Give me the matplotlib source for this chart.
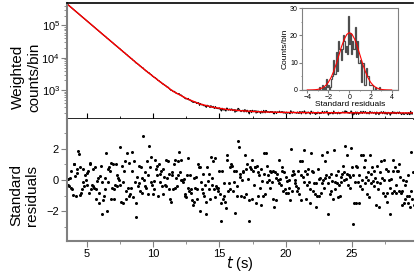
import numpy as np
import matplotlib
matplotlib.use("Agg")
import matplotlib.pyplot as plt
from matplotlib.ticker import MultipleLocator, LogLocator, NullFormatter, FixedLocator

plt.rcParams['font.family'] = ['Liberation Sans', 'DejaVu Sans']

# ---------------- data ----------------
# fitted decay (weighted counts/bin) sampled at these times
fit_t = [3.5, 4.5, 5.5, 6.5, 7.5, 8.5, 9.5, 10.5, 11.5, 12.5, 13.5, 14.5, 15.5,
         16.5, 17.5, 18.5, 19.5, 21.0, 23.0, 25.0, 27.0, 29.7]
fit_counts = [460000, 206000, 92500, 41500, 18700, 8400, 3850, 1850, 930, 560,
              380, 300, 258, 236, 222, 214, 209, 205, 203, 202, 201, 200]

# standard residuals, read left to right
residuals = [
    0.06, -0.3, -0.4, 0.1, 0.55, -0.5, -0.6, -0.95, 1.0, 1.05, 0.25, -1.0, 0.45, 0.7, 1.85,
    1.65, 0.8, -0.95, -0.85, -0.6, 0.7, -0.1, -0.4, 0.35, 0.0, -0.3, 0.45, 0.6, -0.85, 1.0,
    1.1, -0.6, -0.3, -0.4, 0.7, -0.5, 0.8, -0.6, -1.2, -0.06, 0.15, -1.5, -0.85, 0.25, 0.9,
    -2.15, -0.1, -1.3, -1.05, -0.6, 0.1, 1.75, -1.95, -0.1, 0.7, 0.8, 0.55, -1.2, 1.1, -0.5,
    1.0, -0.6, -1.2, -0.3, 1.0, 0.3, -0.4, 0.1, 0.0, -0.3, 2.1, -1.4, 0.9, -0.1, -1.5,
    0.6, 1.2, -0.7, -1.2, 1.75, -0.5, -1.0, 1.1, -0.9, -0.5, 1.8, 0.6, -1.1, 1.2, -0.1,
    -1.5, -2.35, 0.2, -0.4, 0.9, -0.2, -0.7, 0.8, 0.1, -0.8, 2.8, 0.0, -0.4, 0.5, -0.5,
    1.2, 0.3, -0.9, 2.2, 0.8, -0.1, 1.5, -0.3, -0.9, -0.06, -0.6, 1.3, 0.7, 0.9, 0.3, -1.0,
    1.0, 0.4, -0.1, 0.6, -0.4, -0.9, 0.7, 0.2, -0.3, 1.3, -0.4, 0.1, 1.2, 0.4, -0.6,
    -1.2, -1.4, 0.3, 0.5, -0.6, 1.0, 1.3, -0.5, 0.1, -0.4, 0.3, 1.2, 1.8, 0.5, 0.0,
    1.3, 0.0, -0.1, 0.06, -0.9, -1.0, -1.1, 0.3, -0.5, 1.4, -0.7, 0.3, -0.6, -0.8, -1.3,
    -1.6, -1.4, 0.1, -0.5, 0.2, -1.2, -0.6, 1.0, 0.8, -2.0, 0.8, -0.1, -0.6, 0.4, -0.8,
    -1.0, -0.3, -1.4, -2.15, 0.8, -0.06,
    0.4, -0.6, -1.2, 1.5, 0.1, -0.3, 1.2, -0.6, -1.1, 1.4, -0.4, -0.5, -0.5, -0.7, 0.6,
    -0.9, -1.5, -2.6, 0.6, -1.2, -1.0, -0.2, -1.4, -1.8, 1.6, 1.3, -0.7, -0.2, 0.8, -0.6,
    1.0, 0.9, -0.7, -0.1, 0.6, -2.1, 0.6, -1.0, -0.4, 2.5, 2.1, 0.4, 0.2, -1.0, 0.0,
    0.5, 0.6, -1.1, 1.6, 0.7, -0.9, 1.0, 0.06, -1.3, -2.6, 0.8, 0.7, -1.2, 1.3, 0.6,
    -0.3, 0.8, 0.8, -1.5, 0.9, -1.0,
    0.5, 0.3, -0.5, -1.6, 0.7, -0.06, -1.0, 1.7, 0.4, -0.9, 1.7, 0.9, -0.1, 0.3, 0.0,
    -0.5, 0.6, 0.5, -0.1, 0.6, -1.2, -1.7, 0.5, 0.1, -1.3, 0.4, 0.0, -0.2, 1.3, 0.06,
    -0.3, 0.8, 0.6, -0.7, 0.5, -0.6, -0.8, 0.2, -0.06, -0.8, 0.0, -0.5, -1.3, 2.0, 0.3,
    -0.7, 0.6, 0.4, -0.2, 0.0, -0.4, -0.7, 0.6, -0.5, -0.9, 1.2, 0.3, -1.3, 1.2, 0.2,
    -0.1, 1.9, 0.6, -1.2, 0.4, -0.3,
    0.7, -0.1, -0.6, -1.5, 1.7, 0.6, -0.7, 0.5, -0.2, -0.9, -1.7, -0.2, -1.0, 0.7, 0.06,
    -1.0, 0.1, -0.8, -0.2, 1.6, 0.0, -0.5, 1.2, 0.1, 0.3, 1.8, -0.2, -2.2, 0.2, -0.9,
    -0.7, 0.4, -0.06, -1.2, 1.9, -0.1, -0.6, 0.3, -0.2, -1.1, 0.6, -0.3, -1.0, 0.2, -0.1,
    0.4, 0.9, 0.5, 0.0, 2.2, 0.06, 1.6, 0.4, -0.3, 0.3, -0.5, 0.2, 2.05, 0.8, -2.8,
    0.3, -1.5, -0.1, 0.9, -1.5,
    0.8, -0.1, -1.5, 0.3, -0.4, 1.6, 0.0, -0.6, 1.6, 0.8, -0.2, 1.3, 0.2, -0.9, 0.5,
    0.0, -1.1, 1.6, 0.4, -0.2, 0.8, -0.06, -0.4, 0.6, 0.1, -1.6, 0.9, -0.1, -0.6, -1.7,
    0.5, -0.2, 1.2, 0.1, -0.8, 1.3, 0.0, -1.0, 0.7, -0.8, -1.4, 0.6, 0.0, -0.5, -2.2,
    0.06, -0.8, 1.3, 0.6, -0.7, 0.8, -0.3, -0.8, 0.6, 0.6, -0.7, 1.0, 0.2, -0.8, -1.6,
    -0.7, 0.0, -1.5, -1.2, -0.3, -0.06, -1.0, -1.5, 0.3, -1.0, -1.7, 1.8, -0.7, -1.2, 0.5,
    -1.6,
]
t_first, t_last = 3.55, 29.65

# inset: Gaussian fit of residual histogram
gauss_x = [-4.0, -3.75, -3.5, -3.25, -3.0, -2.75, -2.5, -2.25, -2.0, -1.75, -1.5, -1.25,
           -1.0, -0.75, -0.5, -0.25, 0.0, 0.25, 0.5, 0.75, 1.0, 1.25, 1.5, 1.75, 2.0,
           2.25, 2.5, 2.75, 3.0, 3.25, 3.5, 3.75, 4.0]
gauss_y = [0.01, 0.02, 0.05, 0.11, 0.23, 0.48, 0.92, 1.67, 2.84, 4.53, 6.80, 9.58,
           12.74, 15.91, 18.53, 20.36, 21.0, 20.36, 18.53, 15.91, 12.74, 9.58, 6.80,
           4.53, 2.84, 1.67, 0.92, 0.48, 0.23, 0.11, 0.05, 0.02, 0.01]
hist_bin_width = 0.1

# ---------------- derived ----------------
res = np.array(residuals)
t = np.linspace(t_first, t_last, len(res))
fit_at_t = 10 ** np.interp(t, fit_t, np.log10(fit_counts))
counts = fit_at_t + res * np.sqrt(fit_at_t)

GREY = '#808080'
fig = plt.figure(figsize=(4.15, 2.73), dpi=100)
ax1 = fig.add_axes([67/415, (273-119)/273, 346/415, 116/273])
ax2 = fig.add_axes([67/415, (273-241)/273, 346/415, 122/273], sharex=ax1)

# top panel
ax1.plot(t, counts, color='black', lw=0.8)
ax1.plot(fit_t, fit_counts, color='red', lw=1.0)
ax1.set_yscale('log')
ax1.set_ylim(130, 4.9e5)
ax1.set_xlim(3.5, 29.6)
ax1.yaxis.set_major_locator(FixedLocator([1e3, 1e4, 1e5]))
ax1.yaxis.set_minor_locator(LogLocator(base=10, subs=np.arange(2, 10)))
ax1.yaxis.set_minor_formatter(NullFormatter())
ax1.set_ylabel('Weighted\ncounts/bin', fontsize=11)
ax1.yaxis.set_label_coords(-0.075, 0.36)
ax1.tick_params(axis='x', labelbottom=False, direction='in', length=4, color='black')
ax1.tick_params(axis='x', which='minor', direction='in', length=2.5)
ax1.tick_params(axis='y', labelsize=8, direction='out', length=4, color=GREY, pad=1)
ax1.tick_params(axis='y', which='minor', direction='out', length=2, color=GREY)
ax1.spines['right'].set_visible(False)
ax1.spines['left'].set_color(GREY)
ax1.spines['left'].set_linewidth(1.5)
ax1.spines['top'].set_linewidth(1.2)
ax1.spines['bottom'].set_linewidth(1.2)

# bottom panel
ax2.plot(t, res, 'o', color='black', ms=2.2, mew=0)
ax2.set_ylim(-3.9, 3.9)
ax2.yaxis.set_major_locator(FixedLocator([-2, 0, 2]))
ax2.yaxis.set_minor_locator(FixedLocator([-3, -1, 1, 3]))
ax2.xaxis.set_major_locator(MultipleLocator(5))
ax2.xaxis.set_minor_locator(MultipleLocator(2.5))
ax2.set_ylabel('Standard\nresiduals', fontsize=11)
ax2.yaxis.set_label_coords(-0.08, 0.375)
ax2.set_xlabel('$t$ (s)', fontsize=10.5)
ax2.xaxis.set_label_coords(0.5, -0.105)
ax2.tick_params(axis='both', labelsize=8, direction='out', length=4, color=GREY, pad=2)
ax2.tick_params(axis='both', which='minor', direction='out', length=2.5, color=GREY)
ax2.spines['right'].set_visible(False)
ax2.spines['top'].set_visible(False)
for s in ('left', 'bottom'):
    ax2.spines[s].set_color(GREY)
    ax2.spines[s].set_linewidth(1.5)

# inset
axi = fig.add_axes([302/415, (273-90)/273, 96/415, 82/273])
edges = (np.arange(-45.5, 46.0, 1.0) * hist_bin_width) + 0.003
axi.hist(res, bins=edges, histtype='step', color='0.3', lw=0.9)
axi.plot(gauss_x, gauss_y, color='red', lw=0.8)
axi.set_xlim(-4.5, 4.6)
axi.set_ylim(0, 30)
axi.xaxis.set_major_locator(FixedLocator([-4, -2, 0, 2, 4]))
axi.yaxis.set_major_locator(FixedLocator([0, 10, 20, 30]))
axi.xaxis.set_minor_locator(MultipleLocator(1))
axi.yaxis.set_minor_locator(MultipleLocator(5))
axi.tick_params(axis='both', labelsize=5, length=2, pad=1, color=GREY, direction='out')
axi.tick_params(axis='both', which='minor', length=1, color=GREY)
axi.set_xlabel('Standard residuals', fontsize=6, labelpad=0)
axi.set_ylabel('Counts/bin', fontsize=6, labelpad=1)
for s in axi.spines.values():
    s.set_color(GREY)
    s.set_linewidth(0.8)

fig.savefig('out.png', dpi=100)
